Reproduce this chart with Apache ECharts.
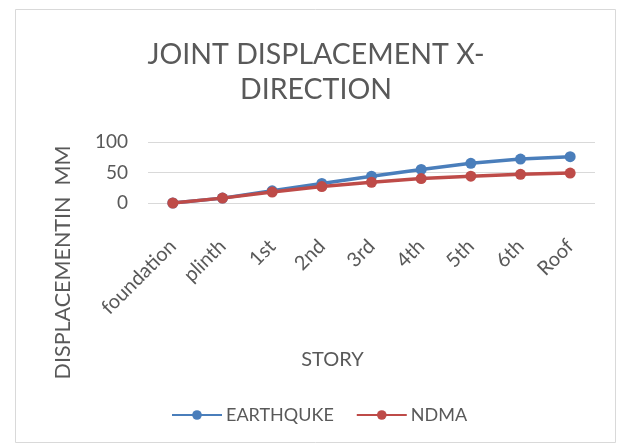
<!DOCTYPE html>
<html>
<head>
<meta charset="utf-8">
<script src="https://cdn.jsdelivr.net/npm/echarts@6/dist/echarts.min.js"></script>
<style>
  html, body { margin: 0; padding: 0; background: #ffffff; }
  #chart { width: 621px; height: 444px; }
</style>
</head>
<body>
<div id="chart"></div>
<script>
// Story levels along the x axis
const stories = ['foundation', 'plinth', '1st', '2nd', '3rd', '4th', '5th', '6th', 'Roof'];
// Joint displacement (mm) per story
const earthquakeValues = [0, 8, 20, 32, 44, 55, 65, 72, 76];
const ndmaValues = [0, 8, 18, 27, 34, 40, 44, 47, 49];
// Value axis ticks
const yMin = 0, yMax = 100, yStep = 50;

const textColor = '#595959';
const fontFamily = 'Lato, "Open Sans", sans-serif';

const chart = echarts.init(document.getElementById('chart'), null, { renderer: 'canvas' });

chart.setOption({
  backgroundColor: '#ffffff',
  animation: false,
  textStyle: { fontFamily: fontFamily, color: textColor },
  title: {
    text: 'JOINT DISPLACEMENT X-\nDIRECTION',
    left: 316,
    textAlign: 'center',
    top: 37,
    padding: 0,
    textStyle: {
      fontFamily: fontFamily,
      fontSize: 28.5,
      fontWeight: 'normal',
      lineHeight: 35,
      color: textColor
    }
  },
  graphic: [{
    type: 'rect',
    silent: true,
    shape: { x: 15.5, y: 9.5, width: 600, height: 433 },
    style: { fill: null, stroke: '#d9d9d9', lineWidth: 1 },
    z: -1
  }],
  legend: {
    bottom: 15,
    left: 166,
    itemWidth: 50,
    itemHeight: 12,
    itemGap: 22,
    textStyle: { fontFamily: fontFamily, fontSize: 18, color: textColor, padding: [0, 0, 0, -1] },
    data: ['EARTHQUKE', 'NDMA']
  },
  grid: { left: 148, right: 26, top: 142, bottom: 241 },
  xAxis: {
    type: 'category',
    data: stories,
    boundaryGap: true,
    name: 'STORY',
    nameLocation: 'middle',
    nameGap: 147,
    nameTextStyle: { fontFamily: fontFamily, fontSize: 20, color: textColor, padding: [0, 78, 0, 0] },
    axisLine: { show: false },
    axisTick: { show: false },
    axisLabel: {
      rotate: 45,
      margin: 40,
      fontFamily: fontFamily,
      fontSize: 20,
      color: textColor,
      interval: 0
    }
  },
  yAxis: {
    type: 'value',
    min: yMin,
    max: yMax,
    interval: yStep,
    name: 'DISPLACEMENTIN  MM',
    nameLocation: 'middle',
    nameGap: 74,
    nameTextStyle: { fontFamily: fontFamily, fontSize: 21.5, color: textColor, padding: [0, 180, 0, 0] },
    axisLine: { show: false },
    axisTick: { show: false },
    axisLabel: { fontFamily: fontFamily, fontSize: 19, color: textColor, margin: 20 },
    splitLine: { lineStyle: { color: '#d9d9d9', width: 1 } }
  },
  series: [
    {
      name: 'EARTHQUKE',
      type: 'line',
      data: earthquakeValues,
      symbol: 'circle',
      symbolSize: 11,
      lineStyle: { color: '#4a7ebb', width: 3.5 },
      itemStyle: { color: '#4a7ebb' },
      z: 2
    },
    {
      name: 'NDMA',
      type: 'line',
      data: ndmaValues,
      symbol: 'circle',
      symbolSize: 11,
      lineStyle: { color: '#be4b48', width: 3.5 },
      itemStyle: { color: '#be4b48' },
      z: 3
    }
  ]
});
</script>
</body>
</html>
